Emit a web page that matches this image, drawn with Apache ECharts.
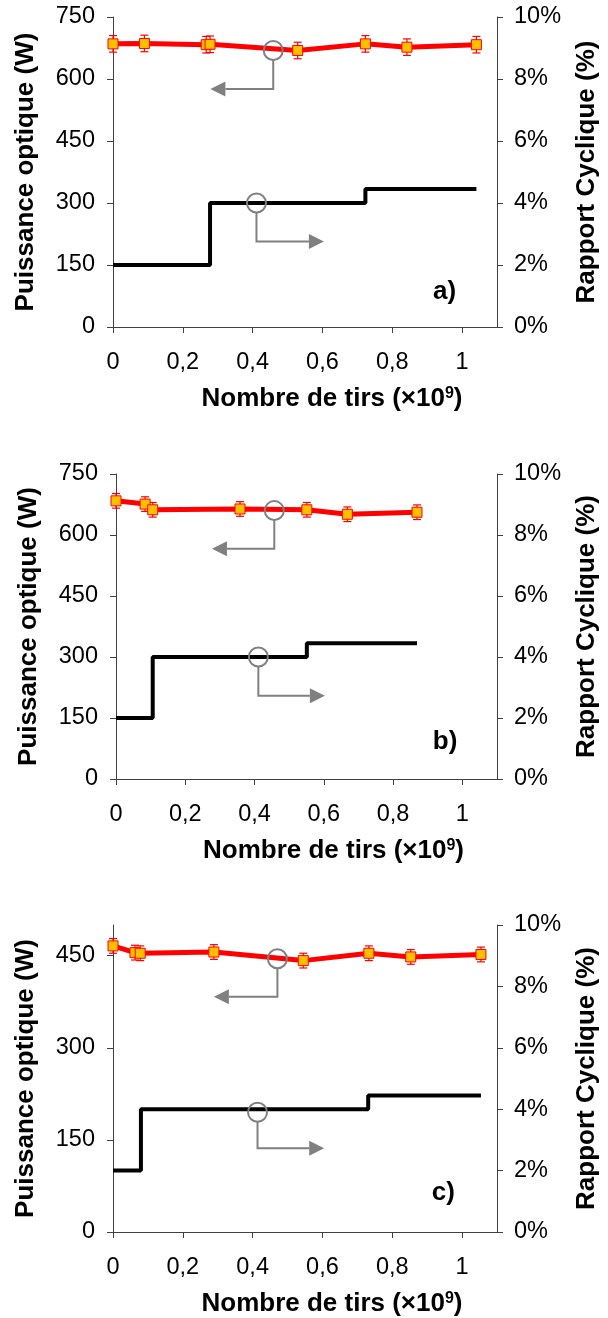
<!DOCTYPE html>
<html>
<head>
<meta charset="utf-8">
<script src="https://cdn.jsdelivr.net/npm/echarts@6/dist/echarts.min.js"></script>
<style>html,body{margin:0;padding:0;background:#fff;}#c{width:608px;height:1318px;}</style>
</head>
<body>
<div id="c"></div>
<script>
// ---- data (x in 10^9 shots, power in W, duty cycle in %) ----
const xTicks = [0, 0.2, 0.4, 0.6, 0.8, 1];
const leftTicksAB = [0, 150, 300, 450, 600, 750];
const leftTicksC = [0, 150, 300, 450];
const rightTicks = [0, 2, 4, 6, 8, 10];

const shotsA = [0, 0.090, 0.267, 0.278, 0.529, 0.723, 0.842, 1.041];
const powerA = [685, 686, 683, 684, 669, 685, 677, 683];
const errA   = [20, 20, 20, 20, 20, 20, 20, 20];
const stepXA = [0, 0.278, 0.723, 1.041];
const dutyA  = [2, 4, 4.45, 4.45];

const shotsB = [0, 0.084, 0.106, 0.358, 0.551, 0.668, 0.869];
const powerB = [684, 676, 662, 664, 662, 651, 656];
const errB   = [18, 18, 18, 18, 18, 18, 18];
const stepXB = [0, 0.106, 0.551, 0.869];
const dutyB  = [2, 4, 4.45, 4.45];

const shotsC = [0, 0.063, 0.078, 0.289, 0.545, 0.733, 0.853, 1.054];
const powerC = [466, 455, 454, 456, 442, 454, 448, 452];
const errC   = [12, 12, 12, 12, 12, 12, 12, 12];
const stepXC = [0, 0.080, 0.731, 1.054];
const dutyC  = [2, 4, 4.45, 4.45];

const panelLabels = ['a)', 'b)', 'c)'];
// label anchor [x, leftAxisValue]
const labelPos = [[0.95, 84], [0.95, 92], [0.946, 64]];
// annotation: circle on power curve (left axis) -> arrow left
const annPower = [
  {cx: 0.459, cy: 669, elbowY: 576, tipX: 0.279},
  {cx: 0.457, cy: 660, elbowY: 566, tipX: 0.277},
  {cx: 0.471, cy: 445, elbowY: 383, tipX: 0.289}
];
// annotation: circle on duty curve (right axis) -> arrow right
const annDuty = [
  {cx: 0.411, cy: 4.0, elbowY: 2.76, tipX: 0.604},
  {cx: 0.411, cy: 4.0, elbowY: 2.73, tipX: 0.603},
  {cx: 0.414, cy: 3.9, elbowY: 2.73, tipX: 0.605}
];

// ---- layout ----
const FONT = '"Liberation Sans", Arial, sans-serif';
const grids = [
  {left: 113, top: 17, width: 394, height: 310},
  {left: 116, top: 474, width: 394, height: 305},
  {left: 113, top: 925, width: 394, height: 307}
];
const leftMax = [750, 750, 500];
const leftTickSets = [leftTicksAB, leftTicksAB, leftTicksC];
const AXC = '#404040';

const chart = echarts.init(document.getElementById('c'), null, {renderer: 'canvas'});

const xAxes = [], yAxes = [], series = [];
const panels = [
  {x: shotsA, p: powerA, e: errA, sx: stepXA, sd: dutyA},
  {x: shotsB, p: powerB, e: errB, sx: stepXB, sd: dutyB},
  {x: shotsC, p: powerC, e: errC, sx: stepXC, sd: dutyC}
];

panels.forEach((pn, i) => {
  xAxes.push({
    type: 'value', gridIndex: i, min: 0, max: 1.1, interval: 0.2,
    axisLine: {show: true, lineStyle: {color: AXC, width: 1}},
    axisTick: {show: true, length: 6, lineStyle: {color: AXC}, customValues: xTicks},
    axisLabel: {
      customValues: xTicks, margin: 24, color: '#000', fontSize: 23.5, fontFamily: FONT,
      formatter: v => String(Math.round(v * 10) / 10).replace('.', ',')
    },
    splitLine: {show: false},
    name: 'Nombre de tirs (×10{s|9})', nameLocation: 'middle', nameGap: 59,
    nameTextStyle: {fontSize: 26, fontWeight: 'bold', color: '#000', fontFamily: FONT, padding: [0, 0, 0, 54],
      rich: {s: {fontSize: 16, fontWeight: 'bold', color: '#000', fontFamily: FONT, verticalAlign: 'top', lineHeight: 16}}}
  });
  yAxes.push({
    type: 'value', gridIndex: i, position: 'left', min: 0, max: leftMax[i], interval: 150,
    axisLine: {show: true, lineStyle: {color: AXC, width: 1}},
    axisTick: {show: true, length: 6, lineStyle: {color: AXC}, customValues: leftTickSets[i]},
    axisLabel: {customValues: leftTickSets[i], margin: 18, color: '#000', fontSize: 23.5, fontFamily: FONT},
    splitLine: {show: false},
    name: 'Puissance optique (W)', nameLocation: 'middle', nameGap: 74, nameRotate: 90,
    nameTextStyle: {fontSize: 26, fontWeight: 'bold', color: '#000', fontFamily: FONT}
  });
  yAxes.push({
    type: 'value', gridIndex: i, position: 'right', min: 0, max: 10, interval: 2,
    axisLine: {show: true, lineStyle: {color: AXC, width: 1}},
    axisTick: {show: true, length: 6, lineStyle: {color: AXC}, customValues: rightTicks},
    axisLabel: {customValues: rightTicks, margin: 17, color: '#000', fontSize: 23.5, fontFamily: FONT,
      formatter: v => v + '%'},
    splitLine: {show: false},
    name: 'Rapport Cyclique (%)', nameLocation: 'middle', nameGap: 77, nameRotate: 90,
    nameTextStyle: {fontSize: 26, fontWeight: 'bold', color: '#000', fontFamily: FONT}
  });

  // duty-cycle step line (right axis)
  series.push({
    type: 'line', xAxisIndex: i, yAxisIndex: 2 * i + 1, step: 'end',
    data: pn.sx.map((x, k) => [x, pn.sd[k]]),
    symbol: 'none', lineStyle: {color: '#000', width: 4}, z: 2
  });
  // error bars
  series.push({
    type: 'custom', xAxisIndex: i, yAxisIndex: 2 * i, z: 3,
    data: pn.x.map((x, k) => [x, pn.p[k], pn.e[k]]),
    renderItem: (params, api) => {
      const x = api.value(0), y = api.value(1), e = api.value(2);
      const t = api.coord([x, y + e]), b = api.coord([x, y - e]);
      const st = {stroke: '#FF0000', lineWidth: 1.2};
      return {type: 'group', children: [
        {type: 'line', shape: {x1: t[0], y1: t[1], x2: b[0], y2: b[1]}, style: st},
        {type: 'line', shape: {x1: t[0] - 4, y1: t[1], x2: t[0] + 4, y2: t[1]}, style: st},
        {type: 'line', shape: {x1: b[0] - 4, y1: b[1], x2: b[0] + 4, y2: b[1]}, style: st}
      ]};
    }
  });
  // optical power line
  series.push({
    type: 'line', xAxisIndex: i, yAxisIndex: 2 * i, z: 4,
    data: pn.x.map((x, k) => [x, pn.p[k]]),
    symbol: 'rect', symbolSize: 10, showAllSymbol: true,
    lineStyle: {color: '#FF0000', width: 5},
    itemStyle: {color: '#FFC000', borderColor: '#FF0000', borderWidth: 1}
  });
});

chart.setOption({
  animation: false,
  backgroundColor: '#fff',
  grid: grids.map(g => Object.assign({containLabel: false}, g)),
  xAxis: xAxes, yAxis: yAxes, series: series
});

// ---- annotations (positioned through the axes) ----
const graphics = [];
const GRAY = '#808080';
const R = 9.5, AH = 15, AW = 7.5;
for (let i = 0; i < 3; i++) {
  const fL = {xAxisIndex: i, yAxisIndex: 2 * i};
  const fR = {xAxisIndex: i, yAxisIndex: 2 * i + 1};
  // power annotation
  const a = annPower[i];
  const c = chart.convertToPixel(fL, [a.cx, a.cy]);
  const ey = chart.convertToPixel(fL, [a.cx, a.elbowY])[1];
  const tx = chart.convertToPixel(fL, [a.tipX, a.cy])[0];
  graphics.push({type: 'circle', shape: {cx: c[0], cy: c[1], r: R}, style: {fill: 'none', stroke: GRAY, lineWidth: 2}, z: 100});
  graphics.push({type: 'polyline', shape: {points: [[c[0], c[1] + R], [c[0], ey], [tx + AH, ey]]}, style: {fill: 'none', stroke: GRAY, lineWidth: 2}, z: 100});
  graphics.push({type: 'polygon', shape: {points: [[tx, ey], [tx + AH, ey - AW], [tx + AH, ey + AW]]}, style: {fill: GRAY}, z: 100});
  // duty annotation
  const d = annDuty[i];
  const c2 = chart.convertToPixel(fR, [d.cx, d.cy]);
  const ey2 = chart.convertToPixel(fR, [d.cx, d.elbowY])[1];
  const tx2 = chart.convertToPixel(fR, [d.tipX, d.cy])[0];
  graphics.push({type: 'circle', shape: {cx: c2[0], cy: c2[1], r: R}, style: {fill: 'none', stroke: GRAY, lineWidth: 2}, z: 100});
  graphics.push({type: 'polyline', shape: {points: [[c2[0], c2[1] + R], [c2[0], ey2], [tx2 - AH, ey2]]}, style: {fill: 'none', stroke: GRAY, lineWidth: 2}, z: 100});
  graphics.push({type: 'polygon', shape: {points: [[tx2, ey2], [tx2 - AH, ey2 - AW], [tx2 - AH, ey2 + AW]]}, style: {fill: GRAY}, z: 100});
  // panel label
  const lp = chart.convertToPixel(fL, labelPos[i]);
  graphics.push({type: 'text', x: lp[0], y: lp[1], z: 100,
    style: {text: panelLabels[i], font: 'bold 26px ' + FONT, fill: '#000', align: 'center', verticalAlign: 'middle'}});
}
chart.setOption({graphic: graphics});
</script>
</body>
</html>
